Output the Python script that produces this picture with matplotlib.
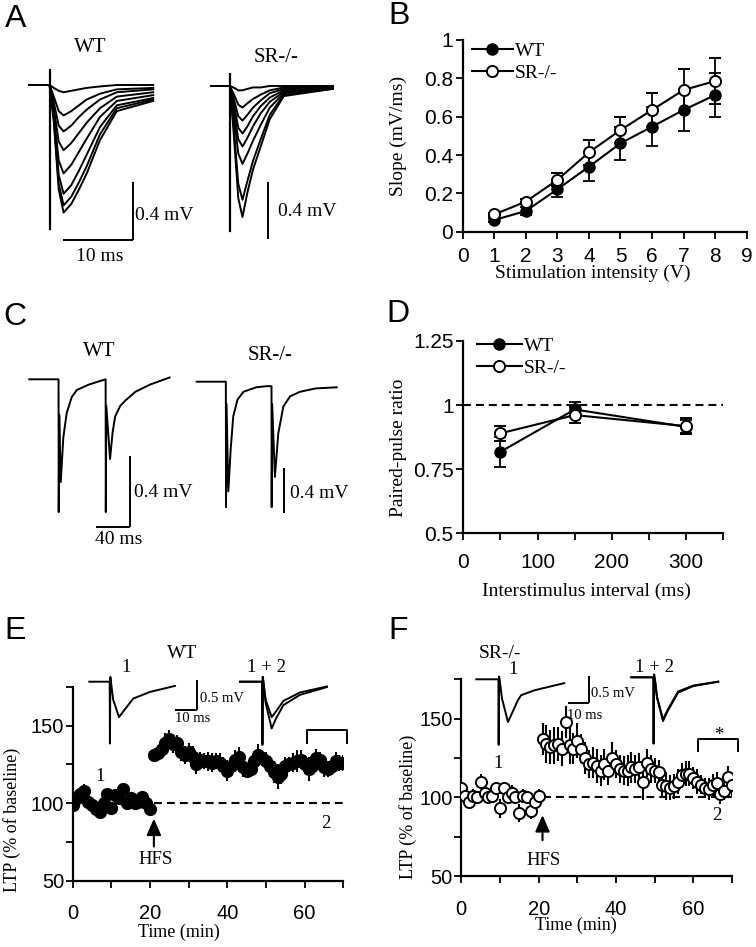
import matplotlib
matplotlib.use('Agg')
import matplotlib.pyplot as plt
from matplotlib.ticker import MultipleLocator, FuncFormatter

plt.rcParams['font.family'] = 'Liberation Serif'
SANS = 'Liberation Sans'

# ---------------- data ----------------
# A: input/output traces (ms, mV)
a_wt_t = [0, 2.9, 3.5, 4.2, 4.9, 6.0, 7.1, 8.2, 10.1, 12.5, 17.7]
a_wt = [
    [0, 0, -0.02, -0.04, -0.05, -0.04, -0.03, -0.02, -0.01, 0.0, 0.0],
    [0, 0, -0.08, -0.18, -0.21, -0.18, -0.14, -0.10, -0.06, -0.03, -0.02],
    [0, 0, -0.12, -0.28, -0.32, -0.28, -0.22, -0.17, -0.10, -0.05, -0.03],
    [0, 0, -0.16, -0.39, -0.45, -0.40, -0.33, -0.26, -0.16, -0.08, -0.05],
    [0, 0, -0.20, -0.52, -0.61, -0.55, -0.46, -0.37, -0.22, -0.11, -0.07],
    [0, 0, -0.22, -0.62, -0.75, -0.69, -0.59, -0.48, -0.29, -0.14, -0.09],
    [0, 0, -0.24, -0.68, -0.83, -0.77, -0.67, -0.56, -0.34, -0.16, -0.10],
    [0, 0, -0.25, -0.72, -0.88, -0.82, -0.72, -0.61, -0.38, -0.18, -0.11],
]
a_wt_art_t = [2.9, 2.9]
a_wt_art_v = [0.10, -0.99]

a_sr_t = [0, 2.6, 3.1, 3.8, 4.4, 5.1, 5.9, 7.0, 8.3, 10.3, 17.3]
a_sr = [
    [0, 0, -0.01, -0.03, -0.03, -0.02, -0.01, -0.01, 0, 0, 0],
    [0, 0, -0.05, -0.13, -0.15, -0.12, -0.09, -0.06, -0.03, -0.01, 0],
    [0, 0, -0.08, -0.21, -0.24, -0.20, -0.15, -0.10, -0.05, -0.02, 0],
    [0, 0, -0.11, -0.29, -0.33, -0.28, -0.21, -0.14, -0.08, -0.03, -0.01],
    [0, 0, -0.14, -0.37, -0.42, -0.36, -0.28, -0.19, -0.11, -0.04, -0.01],
    [0, 0, -0.18, -0.47, -0.54, -0.47, -0.38, -0.27, -0.15, -0.05, -0.01],
    [0, 0, -0.26, -0.68, -0.79, -0.66, -0.52, -0.37, -0.20, -0.06, -0.02],
    [0, 0, -0.30, -0.78, -0.91, -0.74, -0.58, -0.42, -0.23, -0.07, -0.02],
]
a_sr_art_t = [2.6, 2.6]
a_sr_art_v = [0.08, -1.01]

# B: input/output slopes
b_intensity = [1, 2, 3, 4, 5, 6, 7, 8]
b_wt = [0.061, 0.108, 0.221, 0.339, 0.461, 0.548, 0.635, 0.713]
b_wt_err = [0.012, 0.02, 0.04, 0.073, 0.087, 0.10, 0.108, 0.113]
b_sr = [0.090, 0.157, 0.270, 0.414, 0.530, 0.635, 0.739, 0.786]
b_sr_err = [0.01, 0.012, 0.034, 0.064, 0.067, 0.09, 0.108, 0.118]

# C: paired-pulse traces (ms, mV)
c_wt_t = [0, 34.4, 34.6, 35.2, 37.0, 40, 44, 50, 56, 70, 83, 89.8, 90.0, 90.6, 95, 98, 101, 107, 113, 125, 142, 165]
c_wt_v = [0, 0, -0.75, -0.2, -0.58, -0.33, -0.19, -0.10, -0.06, -0.03, -0.01, 0, -0.75, -0.15,
          -0.45, -0.30, -0.21, -0.15, -0.12, -0.07, -0.03, 0.01]
c_sr_t = [0, 34.3, 34.5, 35.1, 37.2, 40, 43, 48, 55, 70, 82, 88.0, 88.2, 88.8, 92, 96, 102, 110, 121.5, 140, 164.7]
c_sr_v = [0, 0, -1.12, -0.2, -0.98, -0.6, -0.31, -0.16, -0.09, -0.05, -0.04, -0.04, -1.12, -0.2,
          -0.85, -0.46, -0.22, -0.13, -0.09, -0.06, -0.05]

# D: paired-pulse ratio
d_isi = [50, 150, 300]
d_wt = [0.818, 0.983, 0.915]
d_wt_err = [0.058, 0.03, 0.025]
d_sr = [0.89, 0.961, 0.918]
d_sr_err = [0.03, 0.032, 0.03]

# E/F: LTP time courses (% of baseline)
ltp_time = list(range(0, 71))
e_wt = [99, 103, 106, 108, 101, 99, 96, 94, 100, 106, 97, 105, 103, 109, 100, 103, 100, 101, 104, 100, 96,
        131, 132, 135, 139, 141, 138, 139, 133, 131, 133, 130, 125, 128, 127, 127, 126, 127, 126, 124, 121,
        124, 128, 130, 123, 121, 122, 127, 131, 129, 127, 124, 120, 117, 119, 124, 125, 126, 127, 128, 125,
        122, 124, 129, 128, 123, 122, 124, 127, 126, 126]
e_wt_err = [3, 3, 3, 4, 3, 3, 3, 3, 4, 3, 3, 4, 3, 4, 3, 3, 3, 3, 3, 3, 3,
            4, 5, 6, 6, 6, 6, 5, 6, 6, 6, 7, 6, 5, 5, 6, 6, 5, 6, 6, 7, 6, 6, 6, 6, 5, 5, 6, 7, 5, 6,
            6, 7, 8, 7, 6, 5, 6, 7, 6, 6, 8, 6, 6, 5, 6, 5, 6, 6, 5, 5]
f_sr = [106, 101, 97, 101, 100, 110, 103, 100, 101, 106, 93, 106, 100, 103, 100, 90, 101, 100, 91, 97, 101,
        137, 134, 132, 133, 134, 131, 148, 133, 131, 136, 131, 125, 121, 122, 120, 117, 121, 117, 125, 121,
        118, 117, 117, 119, 118, 119, 110, 122, 118, 117, 116, 108, 107, 106, 107, 110, 114, 115, 115, 112,
        110, 108, 106, 105, 108, 109, 102, 104, 113, 108]
f_sr_err = [4, 4, 4, 4, 3, 5, 5, 4, 4, 4, 6, 4, 4, 5, 4, 6, 4, 4, 5, 4, 4,
            10, 12, 11, 12, 11, 11, 10, 12, 10, 11, 9, 10, 9, 10, 11, 10, 10, 9, 10, 9, 9, 9, 10, 10, 9,
            9, 12, 9, 9, 8, 8, 8, 9, 8, 8, 8, 8, 8, 8, 7, 8, 6, 6, 7, 7, 7, 6, 6, 7, 7]

# E/F inset traces (ms, mV)
e1_t = [0, 9.4, 9.5, 9.7, 10.3, 11.0, 13.7, 16, 20.3, 28, 39.5]
e1_v = [0, 0, -1.03, 0.08, -0.1, -0.3, -0.59, -0.48, -0.28, -0.17, -0.07]
e12_t = [0, 10.2, 10.3, 10.5, 11.1, 11.8, 14.6, 16.5, 20, 27.6, 40]
e12_v1 = [0, 0, -1.05, 0.08, -0.1, -0.3, -0.59, -0.5, -0.32, -0.18, -0.08]
e12_v2 = [0, 0, -1.05, 0.08, -0.1, -0.35, -0.78, -0.62, -0.39, -0.22, -0.09]
f1_t = [0, 10.7, 10.8, 11.0, 11.6, 12.4, 15.3, 17.5, 20.1, 21.7, 28.2, 42.5]
f1_v = [0, 0, -1.2, 0.05, -0.1, -0.35, -0.78, -0.6, -0.38, -0.29, -0.2, -0.07]
f12_t = [0, 10.7, 10.8, 11.0, 11.6, 12.4, 15.3, 17.5, 22.6, 30, 42]
f12_v1 = [0, 0, -1.21, 0.05, -0.1, -0.35, -0.77, -0.6, -0.26, -0.15, -0.08]
f12_v2 = [0, 0, -1.21, 0.05, -0.1, -0.37, -0.80, -0.62, -0.28, -0.16, -0.08]

# ---------------- layout ----------------
W, H = 756, 947
fig = plt.figure(figsize=(W / 100, H / 100), dpi=100)


def ftext(x, y, s, size=14, ha='center', va='center', family=None):
    fig.text(x / W, 1 - y / H, s, fontsize=size, ha=ha, va=va,
             family=family or 'Liberation Serif')


def plot_axes(l, t, r, b, labelsize=15):
    ax = fig.add_axes([l / W, 1 - b / H, (r - l) / W, (b - t) / H])
    ax.spines[['top', 'right']].set_visible(False)
    ax.spines[['left', 'bottom']].set_linewidth(1.6)
    ax.tick_params(which='both', direction='out', length=5, width=1.3,
                   labelsize=labelsize, labelfontfamily=SANS)
    return ax


def trace_axes(x0, y0, px_ms, px_mv):
    # transparent full-figure axes whose origin sits at pixel (x0, y0)
    ax = fig.add_axes([0, 0, 1, 1])
    ax.set_xlim(-x0 / px_ms, (W - x0) / px_ms)
    ax.set_ylim(-(H - y0) / px_mv, y0 / px_mv)
    ax.axis('off')
    return ax


def scale_bar(ax, x0, y0, px_ms, px_mv, cx, cy, ms=None, mv=None):
    t = (cx - x0) / px_ms
    v = -(cy - y0) / px_mv
    ax.plot([t, t], [v, v + mv], color='k', lw=1.4, solid_capstyle='butt')
    if ms:
        ax.plot([t - ms, t], [v, v], color='k', lw=1.4, solid_capstyle='butt')


def fmt_g(v, _):
    return '%g' % v


TR = dict(color='k', lw=1.4)

# ---- A ----
ax = trace_axes(29.3, 85, 7, 145)
for v in a_wt:
    ax.plot(a_wt_t, v, **TR)
ax.plot(a_wt_art_t, a_wt_art_v, color='k', lw=1.6)
scale_bar(ax, 29.3, 85, 7, 145, 133.3, 240, ms=10, mv=0.4)
ax = trace_axes(211.7, 86, 7, 144)
for v in a_sr:
    ax.plot(a_sr_t, v, **TR)
ax.plot(a_sr_art_t, a_sr_art_v, color='k', lw=1.6)
scale_bar(ax, 211.7, 86, 7, 144, 268.3, 239.3, mv=0.4)
ftext(90.7, 47, 'WT', 15)
ftext(276, 58, 'SR-/-', 15)
ftext(135, 215, '0.4 mV', 14, ha='left')
ftext(99.3, 256.7, '10 ms', 14)
ftext(278.3, 211.7, '0.4 mV', 14, ha='left')

# ---- C ----
ax = trace_axes(29.3, 379.3, 0.85, 177)
ax.plot(c_wt_t, c_wt_v, **TR)
scale_bar(ax, 29.3, 379.3, 0.85, 177, 130, 526.7, ms=40, mv=0.4)
ax = trace_axes(196.7, 381.7, 0.85, 112)
ax.plot(c_sr_t, c_sr_v, **TR)
scale_bar(ax, 196.7, 381.7, 0.85, 112, 284.3, 513.3, mv=0.4)
ftext(99.3, 351.7, 'WT', 15)
ftext(270, 355, 'SR-/-', 15)
ftext(134.3, 492.7, '0.4 mV', 14, ha='left')
ftext(118.3, 540, '40 ms', 14)
ftext(290, 493.3, '0.4 mV', 14, ha='left')

# ---- B ----
ax = plot_axes(462.7, 40, 746.7, 231.7)
ax.errorbar(b_intensity, b_wt, yerr=b_wt_err, color='k', lw=1.5, marker='o', ms=8,
            mfc='k', mec='k', capsize=4, elinewidth=1.3, capthick=1.3, label='WT', zorder=3)
ax.errorbar(b_intensity, b_sr, yerr=b_sr_err, color='k', lw=1.5, marker='o', ms=8,
            mfc='white', mec='k', mew=1.4, capsize=4, elinewidth=1.3, capthick=1.3,
            label='SR-/-', zorder=4)
ax.set_xlim(0, 9)
ax.set_ylim(0, 1)
ax.xaxis.set_major_locator(MultipleLocator(1))
ax.yaxis.set_major_locator(MultipleLocator(0.2))
ax.yaxis.set_major_formatter(FuncFormatter(fmt_g))
ax.tick_params(axis='x', pad=6)
ax.tick_params(axis='y', pad=2)
ax.set_xlabel('Stimulation intensity (V)', fontsize=14, va='center')
ax.set_ylabel('Slope (mV/ms)', fontsize=14, va='center')
ax.xaxis.set_label_coords(0.459, -0.215)
ax.yaxis.set_label_coords(-0.228, 0.5)
h, l = ax.get_legend_handles_labels()
ax.legend([x[0] for x in h], l, loc='upper left', bbox_to_anchor=(0.032, 0.99), frameon=False,
          fontsize=14, handlelength=2.1, handletextpad=0.1, labelspacing=0.25,
          borderpad=0, borderaxespad=0)

# ---- D ----
ax = plot_axes(463.3, 341, 723.3, 533.3)
ax.axhline(1.0, color='k', lw=1.5, dashes=(3.8, 2.4), zorder=1)
ax.errorbar(d_isi, d_wt, yerr=d_wt_err, color='k', lw=1.5, marker='o', ms=8,
            mfc='k', mec='k', capsize=4, elinewidth=1.3, capthick=1.3, label='WT', zorder=3)
ax.errorbar(d_isi, d_sr, yerr=d_sr_err, color='k', lw=1.5, marker='o', ms=8,
            mfc='white', mec='k', mew=1.4, capsize=4, elinewidth=1.3, capthick=1.3,
            label='SR-/-', zorder=4)
ax.set_xlim(0, 350)
ax.set_ylim(0.5, 1.25)
ax.xaxis.set_major_locator(MultipleLocator(100))
ax.xaxis.set_minor_locator(MultipleLocator(50))
ax.yaxis.set_major_locator(MultipleLocator(0.25))
ax.yaxis.set_major_formatter(FuncFormatter(fmt_g))
ax.tick_params(axis='x', pad=9)
ax.tick_params(axis='y', pad=2)
ax.set_xlabel('Interstimulus interval (ms)', fontsize=14, va='center')
ax.set_ylabel('Paired-pulse ratio', fontsize=14, va='center')
ax.xaxis.set_label_coords(0.475, -0.304)
ax.yaxis.set_label_coords(-0.251, 0.444)
h, l = ax.get_legend_handles_labels()
ax.legend([x[0] for x in h], l, loc='upper left', bbox_to_anchor=(0.052, 1.02), frameon=False,
          fontsize=14, handlelength=2.3, handletextpad=0.1, labelspacing=0.25,
          borderpad=0, borderaxespad=0)


def ltp_axes(l, t, r, b, xlab, ylab):
    ax = plot_axes(l, t, r, b, labelsize=14.5)
    ax.set_xlim(0, 70)
    ax.set_ylim(50, 175)
    ax.xaxis.set_major_locator(MultipleLocator(20))
    ax.xaxis.set_minor_locator(MultipleLocator(10))
    ax.yaxis.set_major_locator(MultipleLocator(50))
    ax.yaxis.set_minor_locator(MultipleLocator(25))
    ax.tick_params(axis='x', pad=12)
    ax.tick_params(axis='y', pad=1)
    ax.set_xlabel('Time (min)', fontsize=13, va='center')
    ax.set_ylabel('LTP (% of baseline)', fontsize=13, va='center')
    ax.xaxis.set_label_coords(*xlab)
    ax.yaxis.set_label_coords(*ylab)
    ax.plot([21, 70], [100, 100], color='k', lw=1.5, dashes=(3.8, 2.4), zorder=1)
    return ax


# ---- E ----
ax = ltp_axes(72.7, 686.7, 343.3, 880.7, (0.393, -0.264), (-0.224, 0.313))
ax.errorbar(ltp_time, e_wt, yerr=e_wt_err, fmt='o', color='k', ms=8.5, mfc='k', mec='k',
            elinewidth=1.5, capsize=0, zorder=3)
ax.annotate('', xy=(21, 90), xytext=(21, 72),
            arrowprops=dict(arrowstyle='-|>,head_length=0.5,head_width=0.22', color='k',
                            lw=1.5, mutation_scale=20, shrinkA=0, shrinkB=0))
ax.text(21.5, 63.4, 'HFS', fontsize=13.5, ha='center', va='center')
ax.text(7.05, 117, '1', fontsize=13.5, ha='center', va='center')
ax.text(65.6, 87, '2', fontsize=13.5, ha='center', va='center')
ax.plot([60.5, 60.5, 71, 71], [138.6, 146.8, 146.8, 138.6], color='k', lw=1.4, clip_on=False)

ax = trace_axes(89.3, 681.7, 2.17, 60)
ax.plot(e1_t, e1_v, **TR)
scale_bar(ax, 89.3, 681.7, 2.17, 60, 196.7, 710, ms=10, mv=0.5)
ax = trace_axes(240, 681.7, 2.17, 60)
ax.plot(e12_t, e12_v1, **TR)
ax.plot(e12_t, e12_v2, **TR)
ftext(181.7, 653.5, 'WT', 14)
ftext(126, 668, '1', 13.5)
ftext(266.7, 668, '1 + 2', 13.5)
ftext(200, 698.3, '0.5 mV', 10.5, ha='left')
ftext(175, 718.3, '10 ms', 10.5, ha='left')

# ---- F ----
ax = ltp_axes(461.3, 679.3, 732, 876, (0.425, -0.249), (-0.197, 0.352))
ax.errorbar(ltp_time, f_sr, yerr=f_sr_err, fmt='o', color='k', ms=8, mfc='white', mec='k',
            mew=1.4, elinewidth=1.5, capsize=0, zorder=3)
ax.annotate('', xy=(21, 88.7), xytext=(21, 72.8),
            arrowprops=dict(arrowstyle='-|>,head_length=0.5,head_width=0.22', color='k',
                            lw=1.5, mutation_scale=20, shrinkA=0, shrinkB=0))
ax.text(21.2, 60, 'HFS', fontsize=13.5, ha='center', va='center')
ax.text(9.6, 121.5, '1', fontsize=13.5, ha='center', va='center')
ax.text(66, 88.7, '2', fontsize=13.5, ha='center', va='center')
ax.plot([61.2, 61.2, 71.6, 71.6], [129.5, 137.3, 137.3, 129.5], color='k', lw=1.4, clip_on=False)
ax.text(66.6, 139.5, '*', fontsize=13.5, ha='center', va='center')

ax = trace_axes(476.3, 679.3, 2.07, 54.7)
ax.plot(f1_t, f1_v, **TR)
scale_bar(ax, 476.3, 679.3, 2.07, 54.7, 588.7, 703.3, ms=10, mv=0.5)
ax = trace_axes(631.3, 677.3, 2.07, 54.7)
ax.plot(f12_t, f12_v1, **TR)
ax.plot(f12_t, f12_v2, **TR)
ftext(500, 653.5, 'SR-/-', 14)
ftext(513, 669, '1', 13.5)
ftext(654.7, 667, '1 + 2', 13.5)
ftext(591.3, 693.3, '0.5 mV', 10.5, ha='left')
ftext(567, 715, '10 ms', 10.5, ha='left')

# panel letters
for letter, x, y in [('A', 16, 19), ('B', 399, 16), ('C', 15, 317),
                     ('D', 398, 314), ('E', 15, 631), ('F', 398, 631)]:
    ftext(x, y, letter, 23, family=SANS)

fig.savefig('out.png', dpi=100)
